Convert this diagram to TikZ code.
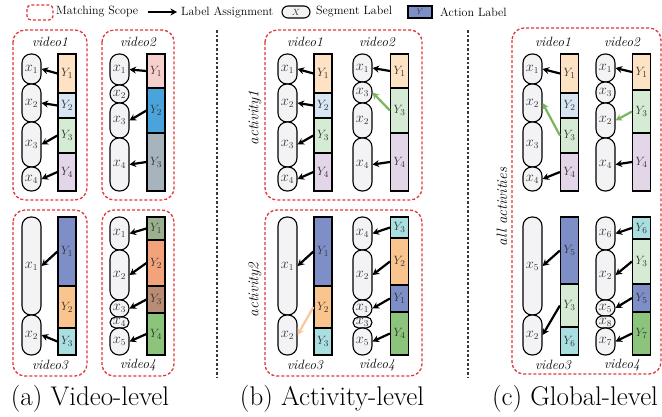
\documentclass[tikz,border=0pt]{standalone}
\usepackage{tikz}
\usetikzlibrary{arrows.meta}
\definecolor{scopered}{HTML}{E0383B}
\definecolor{segfill}{HTML}{F3F3F5}
\definecolor{lorange}{HTML}{FDE2C4}
\definecolor{lblue}{HTML}{D8E6F3}
\definecolor{lgreen}{HTML}{D6EBD4}
\definecolor{lpurple}{HTML}{E2D6E8}
\definecolor{pinkact}{HTML}{F6D0CC}
\definecolor{midblue}{HTML}{4AA3DB}
\definecolor{slate}{HTML}{A7B3BD}
\definecolor{peri}{HTML}{7E8FC8}
\definecolor{orangeact}{HTML}{F9C48E}
\definecolor{cyanact}{HTML}{A9DFE1}
\definecolor{sage}{HTML}{9BB08F}
\definecolor{salmon}{HTML}{F3A37C}
\definecolor{brownact}{HTML}{B98D73}
\definecolor{greenact}{HTML}{8DC47B}
\definecolor{greenarr}{HTML}{7AB55C}
\definecolor{orangearr}{HTML}{F9C89B}
\tikzset{
  scopebox/.style = {scopered, line width=1.3pt, dash pattern=on 3pt off 2pt, rounded corners=12pt},
  sepline/.style  = {gray!45!black, line width=1.4pt, dash pattern=on 2.5pt off 2pt},
  segment/.style  = {draw, fill=segfill, line width=1.1pt, inner sep=0pt, minimum width=19,
                     text=black!80, font=\fontsize{13.5}{15}\selectfont},
  action/.style   = {draw, line width=1.2pt, inner sep=0pt, minimum width=18,
                     text=black!80, font=\fontsize{13}{15}\selectfont},
  assign/.style   = {-{Stealth[length=6.5pt,width=7pt]}, line width=2.2pt, black},
  vidlbl/.style   = {font=\fontsize{13.5}{15}\selectfont\itshape},
  actlbl/.style   = {font=\fontsize{15}{17}\selectfont\itshape, rotate=90},
  legtext/.style  = {anchor=west, inner sep=0pt, font=\fontsize{12}{14}\selectfont},
  caption/.style  = {font=\fontsize{27}{31}\selectfont}
}
% segment: name, x, top, bottom, label
\newcommand{\segbox}[5]{%
  \pgfmathsetmacro{\sh}{#4-#3}%
  \pgfmathsetmacro{\sr}{min(9,\sh/2)}%
  \node[segment, minimum height=\sh, rounded corners=\sr] (#1) at (#2,{(#3+#4)/2}) {$#5$};}
% action: name, x, top, bottom, colour, label
\newcommand{\actbox}[6]{%
  \pgfmathsetmacro{\ah}{#4-#3}%
  \node[action, fill=#5, minimum height=\ah] (#1) at (#2,{(#3+#4)/2}) {$#6$};}

\begin{document}
\begin{tikzpicture}[x=1pt,y=-1pt]
  \useasboundingbox (0,0) rectangle (662,416);
  % legend
  \draw[scopebox, rounded corners=4pt] (27,5) rectangle (53,20);
  \node[legtext] (lgscope) at (56,12) {Matching Scope};
  \coordinate (lgA) at (148,12);
  \coordinate (lgB) at (177,12);
  \draw[assign] (lgA) -- (lgB);
  \node[legtext] (lgassign) at (181,12) {Label Assignment};
  \node[segment, minimum width=28, minimum height=12, rounded corners=6, font=\fontsize{9}{10}\selectfont] (lgseg) at (296,12) {$X$};
  \node[legtext] (lgsegtxt) at (316,12) {Segment Label};
  \node[action, fill=peri, minimum width=24, minimum height=12, font=\fontsize{8}{9}\selectfont] (lgact) at (420,12) {$Y$};
  \node[legtext] (lgacttxt) at (440,12) {Action Label};
  % separators
  \draw[sepline] (217,30) -- (217,378);
  \draw[sepline] (468,30) -- (468,378);

  % ---------- (a) video-level ----------
  \draw[scopebox] (13,30) rectangle (87,200);
  \draw[scopebox] (102,30) rectangle (174,200);
  \draw[scopebox] (13,210) rectangle (87,376);
  \draw[scopebox] (102,210) rectangle (174,376);
  \node[vidlbl] (a1lbl) at (50,42) {video1};
  \node[vidlbl] (a2lbl) at (138,42) {video2};
  \node[vidlbl] (a3lbl) at (50,365) {video3};
  \node[vidlbl] (a4lbl) at (138,365) {video4};
  % video1
  \segbox{a1x1}{31.5}{54}{84}{x_1}
  \segbox{a1x2}{31.5}{84}{122}{x_2}
  \segbox{a1x3}{31.5}{122}{167}{x_3}
  \segbox{a1x4}{31.5}{167}{191}{x_4}
  \actbox{a1y1}{67}{54}{93}{lorange}{Y_1}
  \actbox{a1y2}{67}{93}{118}{lblue}{Y_2}
  \actbox{a1y3}{67}{118}{153}{lgreen}{Y_3}
  \actbox{a1y4}{67}{153}{191}{lpurple}{Y_4}
  \foreach \i in {1,...,4} \draw[assign] (a1y\i.west) -- (a1x\i.east);
  % video2
  \segbox{a2x1}{119.5}{54}{85}{x_1}
  \segbox{a2x2}{119.5}{85}{103}{x_2}
  \segbox{a2x3}{119.5}{103}{138}{x_3}
  \segbox{a2x4}{119.5}{138}{191}{x_4}
  \actbox{a2y1}{156}{54}{88}{pinkact}{Y_1}
  \actbox{a2y2}{156}{88}{133}{midblue}{Y_2}
  \actbox{a2y3}{156}{133}{191}{slate}{Y_3}
  \draw[assign] (a2y1.west) -- (a2x1.east);
  \draw[assign] (a2y2.west) -- (a2x3.east);
  \draw[assign] (a2y3.west) -- (a2x4.east);
  % video3
  \segbox{a3x1}{31.5}{217}{315}{x_1}
  \segbox{a3x2}{31.5}{315}{355}{x_2}
  \actbox{a3y1}{67}{217}{286}{peri}{Y_1}
  \actbox{a3y2}{67}{286}{328}{orangeact}{Y_2}
  \actbox{a3y3}{67}{328}{355}{cyanact}{Y_3}
  \draw[assign] (a3y1.west) -- (a3x1.east);
  \draw[assign] (a3y3.west) -- (a3x2.east);
  % video4
  \segbox{a4x1}{119.5}{217}{250}{x_1}
  \segbox{a4x2}{119.5}{250}{300}{x_2}
  \segbox{a4x3}{119.5}{300}{317}{x_3}
  \segbox{a4x4}{119.5}{317}{328}{x_4}
  \segbox{a4x5}{119.5}{328}{355}{x_5}
  \actbox{a4y1}{156}{217}{240}{sage}{Y_1}
  \actbox{a4y2}{156}{240}{286}{salmon}{Y_2}
  \actbox{a4y3}{156}{286}{313}{brownact}{Y_3}
  \actbox{a4y4}{156}{313}{355}{greenact}{Y_4}
  \draw[assign] (a4y1.west) -- (a4x1.east);
  \draw[assign] (a4y2.west) -- (a4x2.east);
  \draw[assign] (a4y3.west) -- (a4x3.east);
  \draw[assign] (a4y4.west) -- (a4x5.east);

  % ---------- (b) activity-level ----------
  \draw[scopebox] (265,30) rectangle (422,200);
  \draw[scopebox] (265,210) rectangle (422,376);
  \node[actlbl] (bact1) at (255,118) {activity1};
  \node[actlbl] (bact2) at (255,290) {activity2};
  \node[vidlbl] (b1lbl) at (305,42) {video1};
  \node[vidlbl] (b2lbl) at (377,42) {video2};
  \node[vidlbl] (b3lbl) at (305,365) {video3};
  \node[vidlbl] (b4lbl) at (377,365) {video4};
  % video1
  \segbox{b1x1}{287.5}{54}{84}{x_1}
  \segbox{b1x2}{287.5}{84}{122}{x_2}
  \segbox{b1x3}{287.5}{122}{167}{x_3}
  \segbox{b1x4}{287.5}{167}{191}{x_4}
  \actbox{b1y1}{323}{54}{93}{lorange}{Y_1}
  \actbox{b1y2}{323}{93}{118}{lblue}{Y_2}
  \actbox{b1y3}{323}{118}{153}{lgreen}{Y_3}
  \actbox{b1y4}{323}{153}{191}{lpurple}{Y_4}
  \foreach \i in {1,...,4} \draw[assign] (b1y\i.west) -- (b1x\i.east);
  % video2
  \segbox{b2x1}{362.5}{54}{82}{x_1}
  \segbox{b2x3}{362.5}{82}{103}{x_3}
  \segbox{b2x2}{362.5}{103}{138}{x_2}
  \segbox{b2x4}{362.5}{138}{191}{x_4}
  \actbox{b2y1}{399.5}{54}{88}{lorange}{Y_1}
  \actbox{b2y3}{399.5}{88}{133}{lgreen}{Y_3}
  \actbox{b2y4}{399.5}{133}{191}{lpurple}{Y_4}
  \draw[assign] (b2y1.west) -- (b2x1.east);
  \draw[assign, greenarr] (b2y3.west) -- (b2x3.east);
  \draw[assign] (b2y4.west) -- (b2x4.east);
  % video3
  \segbox{b3x1}{287.5}{217}{315}{x_1}
  \segbox{b3x2}{287.5}{315}{355}{x_2}
  \actbox{b3y1}{323}{217}{286}{peri}{Y_1}
  \actbox{b3y2}{323}{286}{328}{orangeact}{Y_2}
  \actbox{b3y3}{323}{328}{355}{cyanact}{Y_3}
  \draw[assign] (b3y1.west) -- (b3x1.east);
  \draw[assign, orangearr] (b3y2.west) -- (b3x2.east);
  % video4
  \segbox{b4x4}{362.5}{217}{250}{x_4}
  \segbox{b4x2}{362.5}{250}{300}{x_2}
  \segbox{b4x1}{362.5}{300}{317}{x_1}
  \segbox{b4x3}{362.5}{317}{328}{x_3}
  \segbox{b4x5}{362.5}{328}{355}{x_5}
  \actbox{b4y3}{399.5}{217}{238}{cyanact}{Y_3}
  \actbox{b4y2}{399.5}{238}{285}{orangeact}{Y_2}
  \actbox{b4y1}{399.5}{285}{312}{peri}{Y_1}
  \actbox{b4y4}{399.5}{312}{355}{greenact}{Y_4}
  \draw[assign] (b4y3.west) -- (b4x4.east);
  \draw[assign] (b4y2.west) -- (b4x2.east);
  \draw[assign] (b4y1.west) -- (b4x1.east);
  \draw[assign] (b4y4.west) -- (b4x5.east);

  % ---------- (c) global-level ----------
  \draw[scopebox] (512,28) rectangle (661,374);
  \node[actlbl] (call) at (502,207) {all activities};
  \node[vidlbl] (c1lbl) at (553,42) {video1};
  \node[vidlbl] (c2lbl) at (622,42) {video2};
  \node[vidlbl] (c3lbl) at (553,365) {video3};
  \node[vidlbl] (c4lbl) at (622,365) {video4};
  % video1
  \segbox{c1x1}{532.5}{54}{84}{x_1}
  \segbox{c1x2}{532.5}{84}{122}{x_2}
  \segbox{c1x3}{532.5}{122}{167}{x_3}
  \segbox{c1x4}{532.5}{167}{191}{x_4}
  \actbox{c1y1}{569.5}{54}{93}{lorange}{Y_1}
  \actbox{c1y2}{569.5}{93}{118}{lblue}{Y_2}
  \actbox{c1y3}{569.5}{118}{153}{lgreen}{Y_3}
  \actbox{c1y4}{569.5}{153}{191}{lpurple}{Y_4}
  \draw[assign] (c1y1.west) -- (c1x1.east);
  \draw[assign, greenarr] (c1y3.west) -- (c1x2.east);
  \draw[assign] (c1y4.west) -- (c1x4.east);
  % video2
  \segbox{c2x1}{605.5}{54}{82}{x_1}
  \segbox{c2x3}{605.5}{82}{103}{x_3}
  \segbox{c2x2}{605.5}{103}{138}{x_2}
  \segbox{c2x4}{605.5}{138}{191}{x_4}
  \actbox{c2y1}{641.5}{54}{90}{lorange}{Y_1}
  \actbox{c2y3}{641.5}{90}{133}{lgreen}{Y_3}
  \actbox{c2y4}{641.5}{133}{191}{lpurple}{Y_4}
  \draw[assign] (c2y1.west) -- (c2x1.east);
  \draw[assign, greenarr] (c2y3.west) -- (c2x2.east);
  \draw[assign] (c2y4.west) -- (c2x4.east);
  % video3
  \segbox{c3x5}{532.5}{217}{315}{x_5}
  \segbox{c3x2}{532.5}{315}{355}{x_2}
  \actbox{c3y5}{569.5}{217}{284}{peri}{Y_5}
  \actbox{c3y3}{569.5}{284}{327}{lgreen}{Y_3}
  \actbox{c3y6}{569.5}{327}{355}{cyanact}{Y_6}
  \draw[assign] (c3y5.west) -- (c3x5.east);
  \draw[assign] (c3y3.west) -- (c3x2.east);
  % video4
  \segbox{c4x6}{605.5}{217}{250}{x_6}
  \segbox{c4x2}{605.5}{250}{300}{x_2}
  \segbox{c4x5}{605.5}{300}{316}{x_5}
  \segbox{c4x8}{605.5}{316}{328}{x_8}
  \segbox{c4x7}{605.5}{328}{355}{x_7}
  \actbox{c4y6}{641.5}{217}{239}{cyanact}{Y_6}
  \actbox{c4y3}{641.5}{239}{284}{lgreen}{Y_3}
  \actbox{c4y5}{641.5}{284}{312}{peri}{Y_5}
  \actbox{c4y7}{641.5}{312}{355}{greenact}{Y_7}
  \draw[assign] (c4y6.west) -- (c4x6.east);
  \draw[assign] (c4y3.west) -- (c4x2.east);
  \draw[assign] (c4y5.west) -- (c4x5.east);
  \draw[assign] (c4y7.west) -- (c4x7.east);

  % captions
  \node[caption] (capa) at (90,399) {(a) Video-level};
  \node[caption] (capb) at (332,399) {(b) Activity-level};
  \node[caption] (capc) at (575,399) {(c) Global-level};
\end{tikzpicture}
\end{document}
